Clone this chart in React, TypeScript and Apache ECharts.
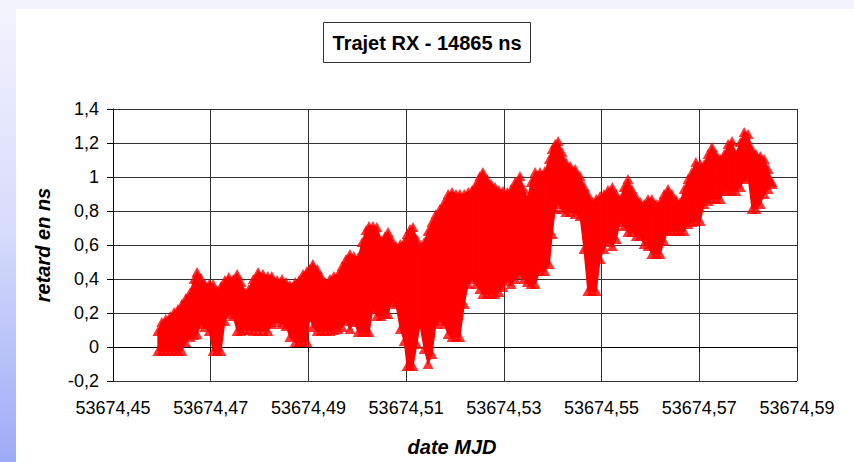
import React, { useEffect, useRef } from "react";
import * as echarts from "echarts";

// date MJD of each sampled column of the point cloud
const mjd = [
  53674.4592, 53674.46, 53674.4608, 53674.4617, 53674.4625, 53674.4633, 53674.4641, 53674.4649, 53674.4658, 53674.4666,
  53674.4672, 53674.468, 53674.4688, 53674.4697, 53674.4705, 53674.4713, 53674.4721, 53674.4729, 53674.4737, 53674.4746,
  53674.4754, 53674.4762, 53674.477, 53674.4778, 53674.4787, 53674.4797, 53674.4807, 53674.4817, 53674.4825, 53674.4836,
  53674.4846, 53674.4854, 53674.4862, 53674.4873, 53674.4881, 53674.4889, 53674.4897, 53674.4903, 53674.4909, 53674.4918,
  53674.4926, 53674.4934, 53674.4944, 53674.4952, 53674.4961, 53674.4969, 53674.4977, 53674.4985, 53674.4993, 53674.5002,
  53674.501, 53674.5018, 53674.5024, 53674.5032, 53674.504, 53674.5049, 53674.5057, 53674.5063, 53674.5071, 53674.5079,
  53674.5088, 53674.5096, 53674.5102, 53674.5108, 53674.5114, 53674.5122, 53674.5128, 53674.5137, 53674.5145, 53674.5153,
  53674.5161, 53674.5169, 53674.5178, 53674.5186, 53674.5194, 53674.5202, 53674.521, 53674.5219, 53674.5227, 53674.5235,
  53674.5243, 53674.5251, 53674.5257, 53674.5266, 53674.5274, 53674.5282, 53674.529, 53674.5298, 53674.5307, 53674.5315,
  53674.5323, 53674.5333, 53674.5341, 53674.5348, 53674.5356, 53674.5364, 53674.5374, 53674.5384, 53674.5393, 53674.5399,
  53674.5405, 53674.5411, 53674.5419, 53674.5427, 53674.5436, 53674.5446, 53674.5456, 53674.5464, 53674.5472, 53674.5481,
  53674.5489, 53674.5497, 53674.5505, 53674.5513, 53674.5522, 53674.553, 53674.5538, 53674.5546, 53674.5554, 53674.5562,
  53674.5571, 53674.5579, 53674.5587, 53674.5595, 53674.5603, 53674.5612, 53674.562, 53674.5628, 53674.5636, 53674.5644,
  53674.5653, 53674.5661, 53674.5669, 53674.5677, 53674.5685, 53674.5693, 53674.5702, 53674.571, 53674.5718, 53674.5726,
  53674.5734, 53674.5743, 53674.5751, 53674.5759, 53674.5767, 53674.5775, 53674.5784, 53674.5792, 53674.58, 53674.5808,
  53674.5816, 53674.5825, 53674.5833, 53674.5841, 53674.5849,
];

// highest delay (ns) seen in each column
const retardHaut = [
  0.094, 0.147, 0.165, 0.182, 0.206, 0.224, 0.253, 0.288, 0.324, 0.4,
  0.441, 0.406, 0.371, 0.371, 0.371, 0.329, 0.359, 0.394, 0.412, 0.4,
  0.429, 0.382, 0.324, 0.341, 0.4, 0.441, 0.429, 0.418, 0.418, 0.394,
  0.4, 0.382, 0.365, 0.382, 0.394, 0.429, 0.447, 0.459, 0.488, 0.459,
  0.418, 0.382, 0.4, 0.418, 0.429, 0.476, 0.518, 0.547, 0.535, 0.529,
  0.618, 0.688, 0.712, 0.712, 0.706, 0.629, 0.653, 0.676, 0.629, 0.594,
  0.606, 0.618, 0.665, 0.694, 0.706, 0.635, 0.588, 0.618, 0.682, 0.735,
  0.782, 0.812, 0.853, 0.9, 0.912, 0.9, 0.9, 0.9, 0.912, 0.924,
  0.959, 1.006, 1.029, 0.988, 0.959, 0.941, 0.924, 0.918, 0.912, 0.929,
  0.971, 1.006, 0.929, 0.871, 0.971, 1.029, 1.029, 1.035, 1.106, 1.165,
  1.194, 1.212, 1.147, 1.088, 1.065, 1.047, 1.006, 0.947, 0.9, 0.853,
  0.871, 0.888, 0.9, 0.924, 0.941, 0.9, 0.871, 0.941, 0.988, 0.929,
  0.882, 0.853, 0.841, 0.871, 0.871, 0.841, 0.853, 0.9, 0.929, 0.9,
  0.865, 0.853, 0.929, 0.988, 1.029, 1.088, 1.076, 1.076, 1.135, 1.176,
  1.135, 1.106, 1.135, 1.194, 1.212, 1.135, 1.206, 1.265, 1.253, 1.165,
  1.135, 1.124, 1.106, 1.047, 0.971,
];

// lowest delay (ns) seen in each column
const retardBas = [
  -0.024, -0.024, -0.024, -0.024, -0.024, -0.024, -0.024, 0.029, 0.059, 0.071,
  0.076, 0.135, 0.118, 0.094, -0.024, -0.024, -0.024, 0.153, 0.194, 0.182,
  0.094, 0.094, 0.1, 0.1, 0.094, 0.094, 0.094, 0.094, 0.135, 0.147,
  0.135, 0.124, 0.059, 0.029, 0.029, 0.029, 0.029, 0.176, 0.118, 0.094,
  0.094, 0.094, 0.094, 0.1, 0.106, 0.118, 0.153, 0.106, 0.147, 0.088,
  0.088, 0.088, 0.088, 0.224, 0.182, 0.182, 0.194, 0.194, 0.265, 0.253,
  0.106, 0.035, -0.112, -0.112, -0.112, 0.018, 0.135, -0.012, -0.1, -0.041,
  0.135, 0.153, 0.135, 0.076, 0.059, 0.059, 0.059, 0.253, 0.371, 0.4,
  0.371, 0.341, 0.312, 0.312, 0.312, 0.312, 0.324, 0.353, 0.388, 0.371,
  0.4, 0.429, 0.4, 0.382, 0.371, 0.371, 0.447, 0.447, 0.488, 0.665,
  0.812, 0.841, 0.812, 0.794, 0.794, 0.782, 0.771, 0.576, 0.329, 0.329,
  0.329, 0.518, 0.576, 0.618, 0.594, 0.635, 0.735, 0.712, 0.676, 0.676,
  0.653, 0.653, 0.606, 0.594, 0.547, 0.547, 0.547, 0.624, 0.682, 0.682,
  0.682, 0.682, 0.682, 0.724, 0.735, 0.741, 0.741, 0.841, 0.859, 0.871,
  0.871, 0.871, 0.918, 0.918, 0.918, 0.918, 0.941, 0.988, 1.0, 0.812,
  0.812, 0.841, 0.9, 0.929, 0.959,
];

const titre = "Trajet RX - 14865 ns";
const nomX = "date MJD";
const nomY = "retard en ns";
const xMin = 53674.45;
const xMax = 53674.59;
const xPas = 0.02;
const yMin = -0.2;
const yMax = 1.4;
const yPas = 0.2;

const FONT = "'Liberation Sans', Arial, sans-serif";
const RED = "#ff0000";

export default function App() {
  const ref = useRef<HTMLDivElement>(null);

  useEffect(() => {
    if (!ref.current) return;
    const chart = echarts.init(ref.current, undefined, { renderer: "svg" });
    const n = mjd.length;
    const bandData = mjd.map((x, i) => [x, retardHaut[i], retardBas[i]]);
    const hautData = mjd.map((x, i) => [x, retardHaut[i]]);
    const basData = mjd.map((x, i) => [x, retardBas[i]]);

    const option: any = {
      animation: false,
      backgroundColor: "transparent",
      title: {
        text: titre,
        left: "center",
        top: 22,
        padding: [10, 9],
        borderColor: "#333",
        borderWidth: 1,
        backgroundColor: "#fff",
        textStyle: {
          fontFamily: FONT,
          fontWeight: "bold",
          fontSize: 20,
          lineHeight: 21,
          color: "#000",
        },
      },
      grid: { left: 113, right: 57, top: 109, bottom: 81, containLabel: false },
      xAxis: {
        type: "value",
        min: xMin,
        max: xMax,
        interval: xPas,
        name: nomX,
        nameLocation: "middle",
        nameGap: 56,
        nameTextStyle: {
          fontFamily: FONT,
          fontSize: 20,
          fontWeight: "bold",
          fontStyle: "italic",
          color: "#000",
          padding: [0, 6, 0, 0],
        },
        axisLine: { show: true, lineStyle: { color: "#000", width: 1 } },
        axisTick: { show: true, inside: false, length: 5, lineStyle: { color: "#000" } },
        axisLabel: {
          fontFamily: FONT,
          fontSize: 18,
          color: "#000",
          margin: 18,
          formatter: (v: number) => v.toFixed(2).replace(".", ","),
        },
        splitLine: { show: true, lineStyle: { color: "#333", width: 1 } },
      },
      yAxis: {
        type: "value",
        min: yMin,
        max: yMax,
        interval: yPas,
        name: nomY,
        nameLocation: "middle",
        nameRotate: 90,
        nameGap: 60,
        nameTextStyle: {
          fontFamily: FONT,
          fontSize: 20,
          fontWeight: "bold",
          fontStyle: "italic",
          color: "#000",
        },
        axisLine: { show: true, lineStyle: { color: "#000", width: 1 } },
        axisTick: { show: true, inside: false, length: 6, lineStyle: { color: "#000" } },
        axisLabel: {
          fontFamily: FONT,
          fontSize: 18,
          color: "#000",
          margin: 14,
          formatter: (v: number) => {
            const r = Math.round(v * 10) / 10;
            if (r === 0) return "0";
            return (Number.isInteger(r) ? String(r) : r.toFixed(1)).replace(".", ",");
          },
        },
        splitLine: { show: true, lineStyle: { color: "#333", width: 1 } },
      },
      series: [
        {
          type: "custom",
          name: "enveloppe",
          data: bandData,
          encode: { x: 0, y: [1, 2] },
          clip: true,
          renderItem: (params: any, api: any) => {
            const i = params.dataIndex;
            if (i >= n - 1) return null;
            const a = api.coord([mjd[i], retardHaut[i]]);
            const b = api.coord([mjd[i + 1], retardHaut[i + 1]]);
            const c = api.coord([mjd[i + 1], retardBas[i + 1]]);
            const d = api.coord([mjd[i], retardBas[i]]);
            return {
              type: "polygon",
              shape: { points: [a, b, c, d] },
              style: { fill: RED, stroke: RED, lineWidth: 1.2 },
            };
          },
          z: 2,
        },
        {
          type: "scatter",
          name: "retard max",
          data: hautData,
          symbol: "triangle",
          symbolSize: [11, 10],
          itemStyle: { color: RED },
          z: 3,
        },
        {
          type: "scatter",
          name: "retard min",
          data: basData,
          symbol: "triangle",
          symbolSize: [11, 10],
          itemStyle: { color: RED },
          z: 3,
        },
      ],
    };
    chart.setOption(option);
    return () => chart.dispose();
  }, []);

  return (
    <div
      style={{
        position: "fixed",
        left: 0,
        top: 0,
        width: 854,
        height: 462,
        overflow: "hidden",
        background: "linear-gradient(to bottom, #f4f4fe 0%, #d6dcfb 50%, #9dabf7 100%)",
      }}
    >
      <div
        style={{
          position: "absolute",
          left: 16,
          top: 9,
          right: 0,
          bottom: 0,
          background: "#ffffff",
        }}
      />
      <div ref={ref} style={{ position: "absolute", left: 0, top: 0, width: 854, height: 462 }} />
    </div>
  );
}
